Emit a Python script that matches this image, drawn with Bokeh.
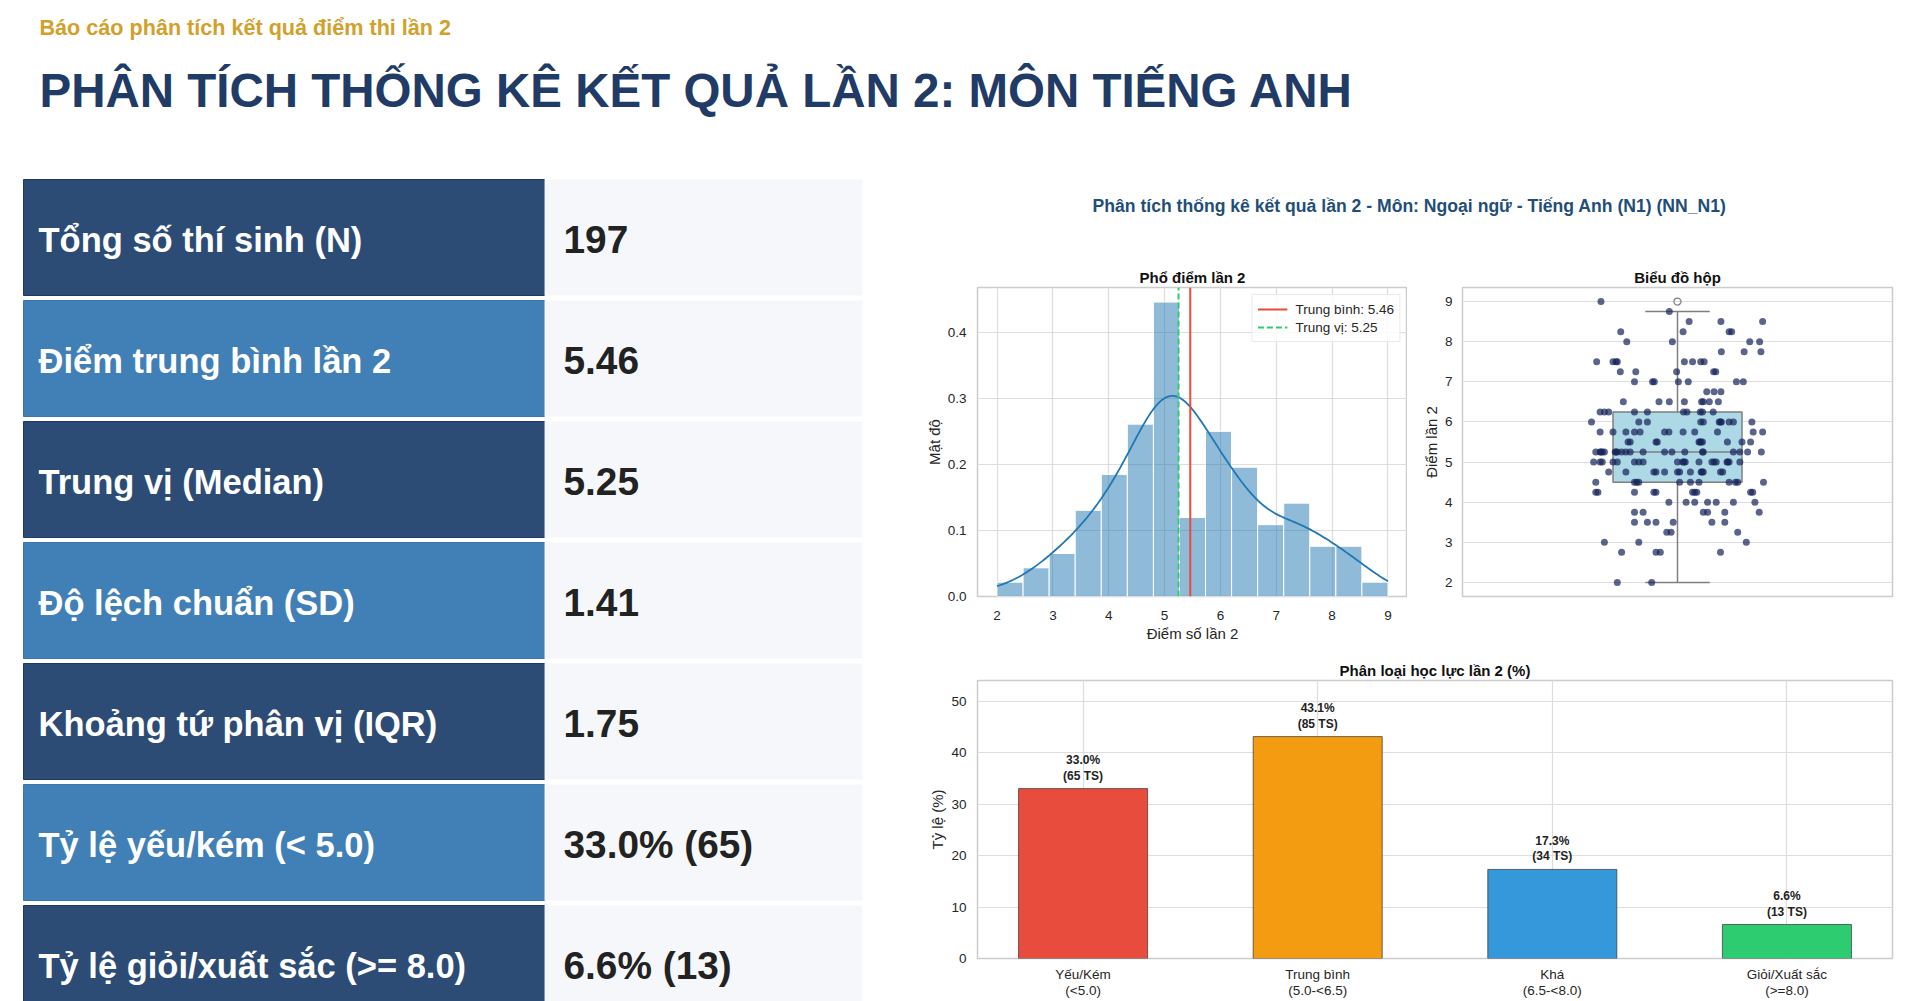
import numpy as np
from bokeh.plotting import figure
from bokeh.layouts import column, row
from bokeh.models import Range1d, FixedTicker, PrintfTickFormatter, Legend, LegendItem
from bokeh.core.properties import value
from bokeh.embed import file_html
from bokeh.resources import INLINE

FONT = "Liberation Sans"

tieu_de_phu = "Báo cáo phân tích kết quả điểm thi lần 2"
tieu_de = "PHÂN TÍCH THỐNG KÊ KẾT QUẢ LẦN 2: MÔN TIẾNG ANH"
tieu_de_bieu_do = "Phân tích thống kê kết quả lần 2 - Môn: Ngoại ngữ - Tiếng Anh (N1) (NN_N1)"

chi_so = ["Tổng số thí sinh (N)", "Điểm trung bình lần 2", "Trung vị (Median)",
          "Độ lệch chuẩn (SD)", "Khoảng tứ phân vị (IQR)", "Tỷ lệ yếu/kém (< 5.0)",
          "Tỷ lệ giỏi/xuất sắc (>= 8.0)"]
gia_tri = ["197", "5.46", "5.25", "1.41", "1.75", "33.0% (65)", "6.6% (13)"]

diem_tb = 5.46
trung_vi = 5.25

# score levels and the horizontal jitter of every student at that level (strip plot)
muc_diem = [2.0, 2.75, 3.0, 3.25, 3.5, 3.75, 4.0, 4.25, 4.5, 4.75, 5.0, 5.25, 5.5,
            5.75, 6.0, 6.25, 6.5, 6.75, 7.0, 7.25, 7.5, 7.75, 8.0, 8.25, 8.5, 8.75, 9.0]
lech_ngang = [
    [-0.14, -0.06],
    [-0.13, -0.05, -0.04, 0.10],
    [-0.17, -0.09, 0.16],
    [-0.025, -0.015, 0.14],
    [-0.10, -0.07, -0.05, -0.01, 0.08, 0.11],
    [-0.10, -0.08, 0.06, 0.07, 0.11, 0.19],
    [-0.02, 0.02, 0.04, 0.07, 0.09, 0.13, 0.18],
    [-0.19, -0.185, -0.10, -0.055, -0.05, 0.035, 0.04, 0.045, 0.17, 0.175],
    [-0.19, -0.10, -0.095, -0.09, 0.005, 0.03, 0.05, 0.12, 0.135, 0.14, 0.20],
    [-0.16, -0.12, -0.055, -0.05, -0.03, 0.0, 0.005, 0.03, 0.055, 0.057, 0.06, 0.10, 0.105],
    [-0.195, -0.18, -0.175, -0.15, -0.14, -0.10, -0.09, -0.08, 0.0, 0.012, 0.015, 0.018,
     0.05, 0.08, 0.085, 0.09, 0.115, 0.117, 0.12, 0.145],
    [-0.19, -0.18, -0.178, -0.175, -0.17, -0.145, -0.143, -0.14, -0.13, -0.12, -0.11,
     -0.08, -0.03, -0.013, 0.017, 0.058, 0.06, 0.13, 0.145, 0.163, 0.195],
    [-0.115, -0.11, -0.05, -0.047, 0.05, 0.052, 0.055, 0.058, 0.116, 0.15, 0.17],
    [-0.18, -0.15, -0.12, -0.10, -0.087, -0.03, -0.02, 0.013, 0.04, 0.093, 0.176, 0.198],
    [-0.20, -0.09, -0.07, 0.054, 0.06, 0.097, 0.10, 0.102, 0.12, 0.13, 0.173],
    [-0.18, -0.17, -0.16, -0.10, -0.07, 0.014, 0.022, 0.053, 0.058, 0.083],
    [-0.126, -0.043, -0.019, 0.016, 0.056, 0.06, 0.074, 0.095],
    [0.068, 0.085, 0.101],
    [-0.10, -0.058, -0.054, 0.002, 0.025, 0.137, 0.153],
    [-0.133, -0.097, -0.002, 0.084, 0.089],
    [-0.188, -0.15, -0.143, -0.14, 0.016, 0.035, 0.054, 0.062],
    [0.102, 0.155, 0.194],
    [-0.118, -0.012, 0.168, 0.191],
    [-0.132, 0.013, 0.12, 0.126],
    [0.027, 0.101, 0.198],
    [-0.019],
    [-0.178],
]

nhom = ["Yếu/Kém\n(<5.0)", "Trung bình\n(5.0-<6.5)", "Khá\n(6.5-<8.0)", "Giỏi/Xuất sắc\n(>=8.0)"]
ty_le = [33.0, 43.1, 17.3, 6.6]
so_ts = [65, 85, 34, 13]
mau_nhom = ["#E74C3C", "#F39C12", "#3498DB", "#2ECC71"]

# ---- derived ----
diem = np.array([m for m, l in zip(muc_diem, lech_ngang) for _ in l])
lech = np.array([v for l in lech_ngang for v in l])

TICK = "#262626"


def khung(p):
    p.background_fill_color = "white"
    p.border_fill_color = "white"
    p.outline_line_color = "#cccccc"
    p.outline_line_width = 1.5
    p.axis.axis_line_color = None
    p.axis.major_tick_line_color = None
    p.axis.minor_tick_line_color = None
    p.axis.major_tick_out = 0
    p.axis.minor_tick_out = 0
    p.axis.major_tick_in = 0
    p.axis.minor_tick_in = 0
    p.axis.major_label_text_font = FONT
    p.axis.major_label_text_font_size = "13.5px"
    p.axis.major_label_text_color = TICK
    p.axis.axis_label_text_font = FONT
    p.axis.axis_label_text_font_size = "15px"
    p.axis.axis_label_text_font_style = "normal"
    p.axis.axis_label_text_color = TICK
    p.axis.major_label_standoff = 11
    p.axis.axis_label_standoff = 2
    p.grid.grid_line_color = "#dddddd"
    p.grid.grid_line_width = 1.2
    p.title.text_font = FONT
    p.title.text_font_size = "15px"
    p.title.text_font_style = "bold"
    p.title.text_color = "#111111"
    p.title.align = "center"
    p.title.standoff = 4


def trang(w, h, x0=0, x1=None, **kw):
    p = figure(width=w, height=h, x_range=Range1d(x0, w if x1 is None else x1),
               y_range=Range1d(h, 0), x_axis_location=None, y_axis_location=None,
               toolbar_location=None, output_backend="svg", **kw)
    p.grid.visible = False
    p.outline_line_color = None
    p.background_fill_color = "white"
    p.border_fill_color = "white"
    return p


# ---- header ----
dau = trang(1912, 168, min_border=0)
dau.text(x=[39], y=[27], text=[tieu_de_phu], text_font=value(FONT), text_font_size="21.6px",
         text_font_style="bold", text_color="#D1A12B", text_baseline="middle")
dau.text(x=[39], y=[90], text=[tieu_de], text_font=value(FONT), text_font_size="47.5px",
         text_font_style="bold", text_color="#1F3B66", text_baseline="middle")

# ---- stats table ----
bang = trang(908, 833, min_border=0)
n = len(chi_so)
top = [11 + 121 * i for i in range(n)]
bot = [t + 116 for t in top]
mid = [t + 60 for t in top]
nen = ["#2C4C75" if i % 2 == 0 else "#4180B6" for i in range(n)]
vien = ["#1E3A60" if i % 2 == 0 else "#3A76AA" for i in range(n)]
bang.quad(left=23, right=544, top=top, bottom=bot, fill_color=nen, line_color=vien, line_width=1)
bang.quad(left=544, right=862, top=top, bottom=bot, fill_color="#F5F7FA", line_color=None)
bang.text(x=[38] * n, y=mid, text=chi_so, text_font=value(FONT), text_font_size="34.5px",
          text_font_style="bold", text_color="white", text_baseline="middle")
bang.text(x=[563] * n, y=mid, text=gia_tri, text_font=value(FONT), text_font_size="38.8px",
          text_font_style="bold", text_color="#222222", text_baseline="middle")

# ---- chart group title (frame lines up with the chart frames: page x 977..1892) ----
tde = trang(1004, 70, x0=977, x1=1892, min_border_left=69, min_border_right=20,
            min_border_top=0, min_border_bottom=0)
tde.text(x=[1092], y=[37], text=[tieu_de_bieu_do], text_font=value(FONT), text_font_size="17.6px",
         text_font_style="bold", text_color="#1F4E79", text_baseline="middle")

# ---- histogram + kde ----
hist = figure(width=499, height=407, x_range=Range1d(1.65, 9.35), y_range=Range1d(0, 0.468),
              title="Phổ điểm lần 2", x_axis_label="Điểm số lần 2", y_axis_label="Mật độ",
              toolbar_location=None, output_backend="svg",
              min_border_left=69, min_border_right=0, min_border_top=49, min_border_bottom=49)
dem, canh = np.histogram(diem, bins=15, range=(2, 9))
mat_do = dem / (dem.sum() * np.diff(canh))
hist.quad(left=canh[:-1], right=canh[1:], bottom=0, top=mat_do, fill_color="#1f77b4",
          fill_alpha=0.5, line_color="white", line_width=1)
xs = np.linspace(diem.min(), diem.max(), 200)
bw = diem.std(ddof=1) * len(diem) ** (-0.2)
kde = np.exp(-0.5 * ((xs[:, None] - diem[None, :]) / bw) ** 2).sum(1) / (len(diem) * bw * np.sqrt(2 * np.pi))
hist.line(xs, kde, line_color="#1f77b4", line_width=1.8)
yy = [hist.y_range.start, hist.y_range.end]
r_tb = hist.line([diem_tb, diem_tb], yy, line_color="#E74C3C", line_width=2)
r_tv = hist.line([trung_vi, trung_vi], yy, line_color="#2ECC71", line_width=2, line_dash="6 3")
khung(hist)
hist.xaxis.ticker = FixedTicker(ticks=list(range(2, 10)))
hist.yaxis.ticker = FixedTicker(ticks=[0, 0.1, 0.2, 0.3, 0.4])
hist.yaxis.formatter = PrintfTickFormatter(format="%.1f")
hist.xaxis.major_label_standoff = 14
hist.xaxis.axis_label_standoff = 2
chu_giai = Legend(items=[LegendItem(label=f"Trung bình: {diem_tb:.2f}", renderers=[r_tb]),
                         LegendItem(label=f"Trung vị: {trung_vi:.2f}", renderers=[r_tv])],
                  location="top_right")
chu_giai.label_text_font = FONT
chu_giai.label_text_font_size = "13.5px"
chu_giai.label_text_color = TICK
chu_giai.border_line_color = "#d5d5d5"
chu_giai.background_fill_alpha = 0.85
chu_giai.margin = 7
chu_giai.padding = 5
chu_giai.spacing = 0
chu_giai.glyph_width = 30
chu_giai.label_height = 18
chu_giai.glyph_height = 18
chu_giai.label_standoff = 8
hist.add_layout(chu_giai)

# ---- box plot + strip ----
hop = figure(width=505, height=407, x_range=Range1d(-0.5, 0.5), y_range=Range1d(1.65, 9.35),
             title="Biểu đồ hộp", y_axis_label="Điểm lần 2",
             toolbar_location=None, output_backend="svg",
             min_border_left=55, min_border_right=20, min_border_top=49, min_border_bottom=49)
q1, med, q3 = np.percentile(diem, [25, 50, 75])
iqr = q3 - q1
duoi = diem[diem >= q1 - 1.5 * iqr].min()
tren = diem[diem <= q3 + 1.5 * iqr].max()
ngoai = diem[(diem < q1 - 1.5 * iqr) | (diem > q3 + 1.5 * iqr)]
XAM = "#7f7f7f"
hop.segment(x0=[0, 0], y0=[q3, duoi], x1=[0, 0], y1=[tren, q1], line_color=XAM, line_width=1.5)
hop.segment(x0=[-0.075, -0.075], y0=[tren, duoi], x1=[0.075, 0.075], y1=[tren, duoi],
            line_color=XAM, line_width=1.5)
hop.quad(left=-0.15, right=0.15, bottom=q1, top=q3, fill_color="#add8e6", line_color=XAM, line_width=1.5)
hop.segment(x0=[-0.15], y0=[med], x1=[0.15], y1=[med], line_color=XAM, line_width=1.5)
hop.scatter(x=np.zeros(len(ngoai)), y=ngoai, size=7, fill_color=None, line_color=XAM, line_width=1.2)
hop.scatter(x=lech, y=diem, size=7, fill_color="#16235A", fill_alpha=0.7, line_color=None)
khung(hop)
hop.xaxis.visible = False
hop.xgrid.visible = False
hop.yaxis.ticker = FixedTicker(ticks=list(range(2, 10)))
hop.yaxis.major_label_standoff = 10

# ---- category bars ----
vi_tri = list(range(len(nhom)))
cot = figure(width=1004, height=356, x_range=Range1d(-0.45, 3.45), y_range=Range1d(0, 54),
             title="Phân loại học lực lần 2 (%)", y_axis_label="Tỷ lệ (%)",
             toolbar_location=None, output_backend="svg",
             min_border_left=69, min_border_right=20, min_border_top=35, min_border_bottom=40)
cot.vbar(x=vi_tri, top=ty_le, width=0.55, fill_color=mau_nhom, line_color="#333333",
         line_alpha=0.7, line_width=1)
nhan = [f"{t:.1f}%\n({s} TS)" for t, s in zip(ty_le, so_ts)]
cot.text(x=vi_tri, y=ty_le, text=nhan, text_align="center", text_baseline="bottom", y_offset=-6,
         text_font=value(FONT), text_font_size="12px", text_font_style="bold",
         text_line_height=1.1, text_color="#222222")
khung(cot)
cot.xaxis.ticker = FixedTicker(ticks=vi_tri)
cot.xaxis.major_label_overrides = {i: lbl for i, lbl in zip(vi_tri, nhom)}
cot.xaxis.major_label_text_line_height = 1.1
cot.xaxis.major_label_standoff = 8
cot.yaxis.ticker = FixedTicker(ticks=list(range(0, 51, 10)))

bo_cuc = column(dau, row(bang, column(tde, row(hist, hop), cot)))

open("out.html", "w").write(file_html(bo_cuc, INLINE))
